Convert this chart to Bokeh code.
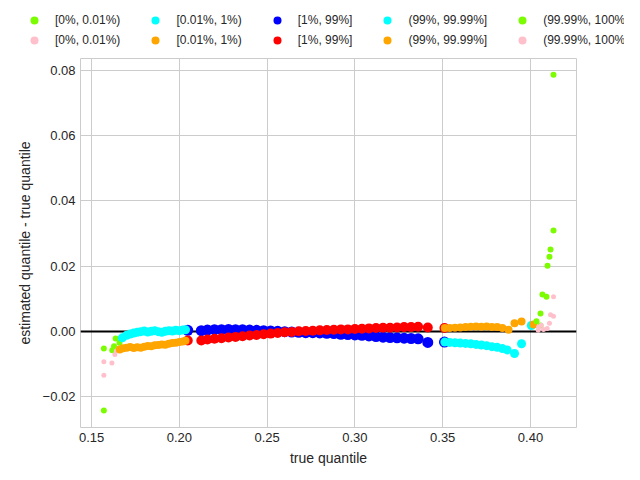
from bokeh.plotting import figure
from bokeh.models import (FixedTicker, CustomJSTickFormatter, Legend, LegendItem, Range1d)
from bokeh.embed import file_html
from bokeh.resources import INLINE

# ---- data (true quantile, estimated - true) ----
green_lo_x = [0.1570, 0.1570, 0.1618, 0.1628, 0.1637, 0.1659]
green_lo_y = [-0.0053, -0.0243, -0.0058, -0.0046, -0.0022, -0.0035]
pink_lo_x = [0.1570, 0.1616, 0.1570, 0.1633, 0.1641, 0.1655]
pink_lo_y = [-0.0093, -0.0097, -0.0135, -0.0071, -0.0060, -0.0053]

cyan_lo_x = [0.1675, 0.1700, 0.1720, 0.1740, 0.1760, 0.1780, 0.1800, 0.1820, 0.1840,
             0.1860, 0.1880, 0.1900, 0.1920, 0.1940, 0.1960, 0.1980, 0.2000, 0.2020, 0.2035]
cyan_lo_y = [-0.0020, -0.0012, -0.0008, -0.0005, -0.0003, -0.0001, 0.0001, -0.0002, 0.0000,
             0.0002, -0.0001, -0.0003, 0.0000, 0.0002, 0.0001, 0.0003, 0.0002, 0.0004, 0.0005]
orange_lo_x = [0.1661, 0.1680, 0.1700, 0.1720, 0.1740, 0.1760, 0.1780, 0.1800, 0.1820, 0.1840,
               0.1860, 0.1880, 0.1900, 0.1920, 0.1940, 0.1960, 0.1980, 0.2000, 0.2020, 0.2035]
orange_lo_y = [-0.0056, -0.0052, -0.0050, -0.0048, -0.0051, -0.0049, -0.0050, -0.0047, -0.0045, -0.0046,
               -0.0043, -0.0042, -0.0040, -0.0041, -0.0038, -0.0036, -0.0035, -0.0033, -0.0031, -0.0029]

mid_x = [0.2048, 0.2125, 0.2160, 0.2200, 0.2240, 0.2280, 0.2320, 0.2360, 0.2400, 0.2440,
         0.2480, 0.2520, 0.2560, 0.2600, 0.2640, 0.2680, 0.2720, 0.2760, 0.2800, 0.2840,
         0.2880, 0.2920, 0.2960, 0.3000, 0.3040, 0.3080, 0.3120, 0.3160, 0.3200, 0.3240,
         0.3280, 0.3320, 0.3360, 0.3415, 0.3510]
blue_y = [0.0003, 0.0002, 0.0004, 0.0005, 0.0005, 0.0006, 0.0005, 0.0005, 0.0004, 0.0003,
          0.0002, 0.0001, 0.0000, -0.0001, -0.0002, -0.0003, -0.0004, -0.0004, -0.0005, -0.0006,
          -0.0007, -0.0009, -0.0010, -0.0011, -0.0012, -0.0014, -0.0016, -0.0018, -0.0019, -0.0020,
          -0.0021, -0.0022, -0.0023, -0.0034, -0.0033]
red_y = [-0.0028, -0.0028, -0.0025, -0.0023, -0.0021, -0.0019, -0.0017, -0.0015, -0.0013, -0.0011,
         -0.0009, -0.0007, -0.0005, -0.0003, -0.0002, 0.0000, 0.0001, 0.0002, 0.0003, 0.0004,
         0.0005, 0.0006, 0.0006, 0.0007, 0.0008, 0.0009, 0.0010, 0.0011, 0.0011, 0.0012,
         0.0013, 0.0013, 0.0014, 0.0012, 0.0010]

cyan_hi_x = [0.3512, 0.3540, 0.3570, 0.3600, 0.3630, 0.3660, 0.3690, 0.3720, 0.3750, 0.3780,
             0.3810, 0.3840, 0.3867, 0.3909, 0.3949, 0.4005]
cyan_hi_y = [-0.0033, -0.0034, -0.0035, -0.0036, -0.0037, -0.0038, -0.0040, -0.0042, -0.0044, -0.0047,
             -0.0049, -0.0053, -0.0057, -0.0068, -0.0038, 0.0018]
orange_hi_x = [0.3512, 0.3540, 0.3570, 0.3600, 0.3630, 0.3660, 0.3690, 0.3720, 0.3750, 0.3780,
               0.3810, 0.3840, 0.3875, 0.3909, 0.3949, 0.4017]
orange_hi_y = [0.0010, 0.0010, 0.0011, 0.0012, 0.0013, 0.0014, 0.0015, 0.0014, 0.0015, 0.0013,
               0.0013, 0.0010, 0.0005, 0.0025, 0.0030, 0.0021]

green_hi_x = [0.4034, 0.4057, 0.4057, 0.4068, 0.4091, 0.4097, 0.4108, 0.4114, 0.4131, 0.4131]
green_hi_y = [0.0031, 0.0018, 0.0055, 0.0113, 0.0106, 0.0201, 0.0229, 0.0251, 0.0309, 0.0787]
pink_hi_x = [0.4131, 0.4114, 0.4131, 0.4108, 0.4061, 0.4046, 0.4074, 0.4095, 0.4044]
pink_hi_y = [0.0106, 0.0051, 0.0046, 0.0025, 0.0019, 0.0013, 0.0006, 0.0009, 0.0003]

labels = ["[0%, 0.01%)", "[0.01%, 1%)", "[1%, 99%]", "(99%, 99.99%]", "(99.99%, 100%]"]
x_ticks = [0.15, 0.20, 0.25, 0.30, 0.35, 0.40]
y_ticks = [-0.02, 0.00, 0.02, 0.04, 0.06, 0.08]

FONT = "Liberation Sans"

GREEN, PINK, CYAN, ORANGE, BLUE, RED = "#7cfc00", "#ffc0cb", "#00ffff", "#ffa500", "#0000ff", "#ff0000"

# series: (x, y, colour, size)
series_row1 = [(green_lo_x, green_lo_y, GREEN, 6), (cyan_lo_x, cyan_lo_y, CYAN, 9),
               (mid_x, blue_y, BLUE, 11), (cyan_hi_x, cyan_hi_y, CYAN, 9),
               (green_hi_x, green_hi_y, GREEN, 6)]
series_row2 = [(pink_lo_x, pink_lo_y, PINK, 5), (orange_lo_x, orange_lo_y, ORANGE, 8),
               (mid_x, red_y, RED, 10), (orange_hi_x, orange_hi_y, ORANGE, 8),
               (pink_hi_x, pink_hi_y, PINK, 5)]

# ---------------- main plot ----------------
p = figure(width=624, height=414, output_backend="svg", toolbar_location=None,
           x_range=Range1d(0.1437, 0.4262), y_range=Range1d(-0.0295, 0.0837),
           min_border_left=80, min_border_right=48, min_border_top=2, min_border_bottom=43)

p.background_fill_color = "white"
p.outline_line_color = "#cccccc"
p.outline_line_width = 1

for ax in (p.xaxis[0], p.yaxis[0]):
    ax.axis_line_color = None
    ax.major_tick_line_color = None
    ax.minor_tick_line_color = None
    ax.major_tick_out = 0
    ax.major_tick_in = 0
    ax.major_label_text_font = FONT
    ax.major_label_text_font_size = "13px"
    ax.major_label_text_color = "#262626"
    ax.axis_label_text_font = FONT
    ax.axis_label_text_font_size = "14px"
    ax.axis_label_text_font_style = "normal"
    ax.axis_label_text_color = "#262626"
    ax.major_label_standoff = 5

p.xaxis.ticker = FixedTicker(ticks=x_ticks)
p.yaxis.ticker = FixedTicker(ticks=y_ticks)
p.xaxis.formatter = CustomJSTickFormatter(code="return tick.toFixed(2);")
p.yaxis.formatter = CustomJSTickFormatter(
    code="var s = Math.abs(tick).toFixed(2); return (tick < -1e-9 ? '\u2212' : '') + s;")
p.xaxis.axis_label = "true quantile"
p.yaxis.axis_label = "estimated quantile - true quantile"
p.xaxis.axis_label_standoff = 5
p.yaxis.axis_label_standoff = 7

p.grid.grid_line_color = "#cccccc"
p.grid.grid_line_width = 1

# zero line
p.hspan(y=[0.0], line_color="black", line_width=2)

def sc(fig, x, y, color, size):
    return fig.scatter(x=x, y=y, size=size, fill_color=color, line_color=None)

# middle band first, then tails on top
for x, y, c, s in [series_row1[2], series_row2[2]]:
    sc(p, x, y, c, s)
for x, y, c, s in [series_row1[0], series_row2[0], series_row1[1], series_row2[1],
                   series_row1[3], series_row2[3], series_row1[4], series_row2[4]]:
    sc(p, x, y, c, s)

# ---------------- legend strip (separate root, frame spans full width) ----------------
# ranges chosen so that the (real) series fall outside the strip: only the legend shows
lg = figure(width=624, height=56, output_backend="svg", toolbar_location=None,
            x_range=Range1d(10, 11), y_range=Range1d(10, 11),
            x_axis_type=None, y_axis_type=None,
            min_border_left=0, min_border_right=0, min_border_top=0, min_border_bottom=0)
lg.outline_line_color = None
lg.grid.visible = False

def make_row(series, y_loc):
    items = []
    for (x, y, color, size), lab in zip(series, labels):
        r = sc(lg, x, y, color, size)
        items.append(LegendItem(label=lab, renderers=[r]))
    leg = Legend(items=items, orientation="horizontal", location=(24, y_loc),
                 padding=0, spacing=25, margin=0,
                 glyph_width=20, glyph_height=20, label_height=20, label_standoff=11,
                 label_text_font=FONT, label_text_font_size="12px",
                 label_text_color="#262626",
                 background_fill_alpha=0, border_line_color=None)
    lg.add_layout(leg, "center")

make_row(series_row1, 26)
make_row(series_row2, 6)

open("out.html", "w").write(file_html([lg, p], INLINE))
